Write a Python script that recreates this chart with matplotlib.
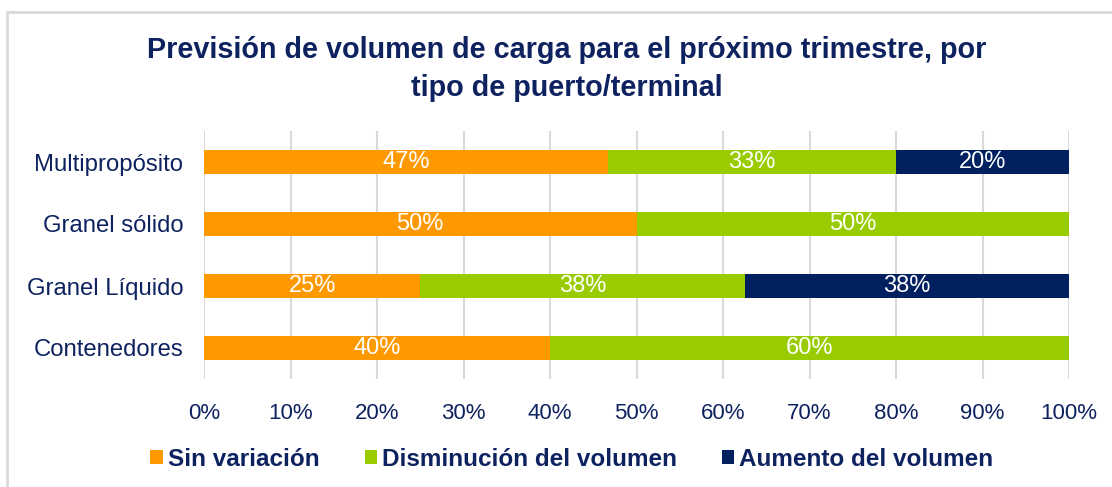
import matplotlib
matplotlib.use("Agg")
import matplotlib.pyplot as plt
from matplotlib.patches import Patch, Rectangle

categories = ["Multipropósito", "Granel sólido", "Granel Líquido", "Contenedores"]
sin_variacion = [46.67, 50.0, 25.0, 40.0]
disminucion = [33.33, 50.0, 37.5, 60.0]
aumento = [20.0, 0.0, 37.5, 0.0]
series_names = ["Sin variación", "Disminución del volumen", "Aumento del volumen"]
x_ticks = [0, 10, 20, 30, 40, 50, 60, 70, 80, 90, 100]
x_tick_labels = [f"{t}%" for t in x_ticks]
title = "Previsión de volumen de carga para el próximo trimestre, por\ntipo de puerto/terminal"

colors = ["#FF9900", "#99CC00", "#002060"]
text_color = "#0e2260"

plt.rcParams['font.family'] = ['Liberation Sans', 'DejaVu Sans']

fig = plt.figure(figsize=(11.12, 4.87), dpi=100)
ax = fig.add_axes([204/1112, 1-379/487, 865/1112, 248/487])

y = list(range(len(categories)))
left = [0.0]*len(categories)
for vals, col, name in zip([sin_variacion, disminucion, aumento], colors, series_names):
    bars = ax.barh(y, vals, left=left, height=0.4, color=col, label=name, zorder=3)
    for yi, l, v in zip(y, left, vals):
        if v > 0:
            ax.text(l + v/2, yi, f"{round(v):.0f}%", ha='center', va='center',
                    color='white', fontsize=17, zorder=4)
    left = [a + b for a, b in zip(left, vals)]

ax.set_xlim(0, 100)
ax.set_ylim(len(categories)-0.5, -0.5)
ax.set_yticks(y)
ax.set_yticklabels(categories, fontsize=17.2, color=text_color)
ax.set_xticks(x_ticks)
ax.set_xticklabels(x_tick_labels, fontsize=16, color=text_color)
ax.tick_params(axis='both', length=0)
ax.tick_params(axis='y', pad=15)
ax.tick_params(axis='x', pad=17)
ax.grid(axis='x', color='#d9d9d9', linewidth=1.5, zorder=0)
ax.set_axisbelow(True)
for s in ax.spines.values():
    s.set_visible(False)

fig.text(567/1112, 1-69/487, title, ha='center', va='center', fontsize=20.7,
         fontweight='bold', color=text_color, linespacing=1.45)

handles = [Patch(facecolor=c, edgecolor='none') for c in colors]
leg = fig.legend(handles, series_names, loc='center', bbox_to_anchor=(572/1112, 1-459/487),
                 ncol=3, frameon=False, handlelength=0.5, handleheight=0.5,
                 handletextpad=0.22, columnspacing=1.85,
                 prop={'weight': 'bold', 'size': 17.5})
for t in leg.get_texts():
    t.set_color(text_color)

# outer chart border
fig.add_artist(Rectangle((7/1112, -0.05), 1.1, 1-12/487+0.05, transform=fig.transFigure,
                         fill=False, edgecolor='#d9d9d9', linewidth=2))

fig.savefig("out.png", dpi=100)
